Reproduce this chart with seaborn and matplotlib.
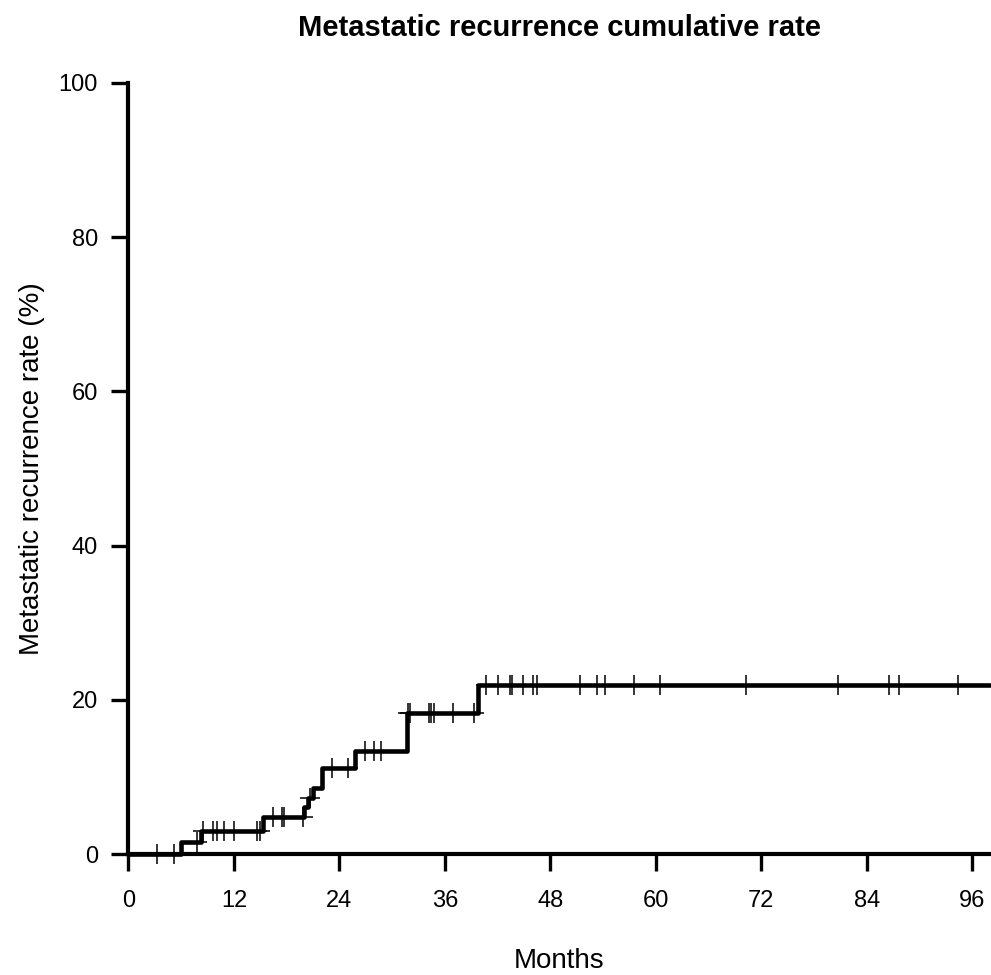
import numpy as np
import pandas as pd
import seaborn as sns
import matplotlib.pyplot as plt

# step curve: event times (months) and cumulative rate (%) after each event
event_months = [0, 6.0, 8.25, 15.3, 20.0, 20.4, 21.0, 22.0, 25.8, 31.65, 39.8, 98.0]
cum_rate = [0, 1.5, 3.0, 4.85, 6.1, 7.3, 8.6, 11.1, 13.4, 18.3, 21.9, 21.9]

# censored observations (months)
censor_months = [3.2, 5.2, 7.85, 8.5, 9.65, 10.05, 10.9, 12.0, 14.6, 15.0, 16.4,
                 17.45, 17.75, 19.9, 20.65, 23.1, 25.0, 26.9, 27.9, 28.7, 31.8,
                 32.0, 34.2, 34.4, 34.7, 36.9, 39.3, 40.7, 42.0, 43.4, 43.6,
                 44.85, 46.0, 46.45, 51.4, 53.35, 54.2, 57.5, 60.5, 70.3, 80.75,
                 86.5, 87.6, 94.4]

x_ticks = [0, 12, 24, 36, 48, 60, 72, 84, 96]
y_ticks = [0, 20, 40, 60, 80, 100]

sns.set_style('ticks')
plt.rcParams['font.family'] = ['Liberation Sans', 'DejaVu Sans']
plt.rcParams['text.color'] = 'black'
plt.rcParams['axes.labelcolor'] = 'black'
plt.rcParams['axes.edgecolor'] = 'black'
plt.rcParams['xtick.color'] = 'black'
plt.rcParams['ytick.color'] = 'black'

curve = pd.DataFrame({'Months': event_months, 'Rate': cum_rate})
# height of each censor mark = value of the step curve at that time
idx = np.searchsorted(event_months, censor_months, side='right') - 1
cens = pd.DataFrame({'Months': censor_months, 'Rate': np.array(cum_rate)[idx]})

fig = plt.figure(figsize=(9.91, 9.75), dpi=100)
ax = fig.add_axes([0.1296, 0.1241, 0.8694, 0.7908])

sns.lineplot(data=curve, x='Months', y='Rate', drawstyle='steps-post',
             color='black', linewidth=3.3, ax=ax, clip_on=False)
sns.scatterplot(data=cens, x='Months', y='Rate', marker='+', s=220,
                color='black', linewidth=1.1, ax=ax, clip_on=False, zorder=3)

ax.set_xlim(0, 98.0)
ax.set_ylim(0, 100)
ax.set_xticks(x_ticks)
ax.set_yticks(y_ticks)
ax.spines['top'].set_visible(False)
ax.spines['right'].set_visible(False)
for side in ['left', 'bottom']:
    ax.spines[side].set_linewidth(3.0)
ax.tick_params(direction='out', length=12, width=2.4, labelsize=17)
ax.tick_params(axis='x', pad=14)
ax.tick_params(axis='y', pad=10)

ax.set_title('Metastatic recurrence cumulative rate', fontsize=21,
             fontweight='bold', pad=34)
ax.set_xlabel('Months', fontsize=20, labelpad=26)
ax.set_ylabel('Metastatic recurrence rate (%)', fontsize=20, labelpad=10)

plt.savefig('out.png', dpi=100)
